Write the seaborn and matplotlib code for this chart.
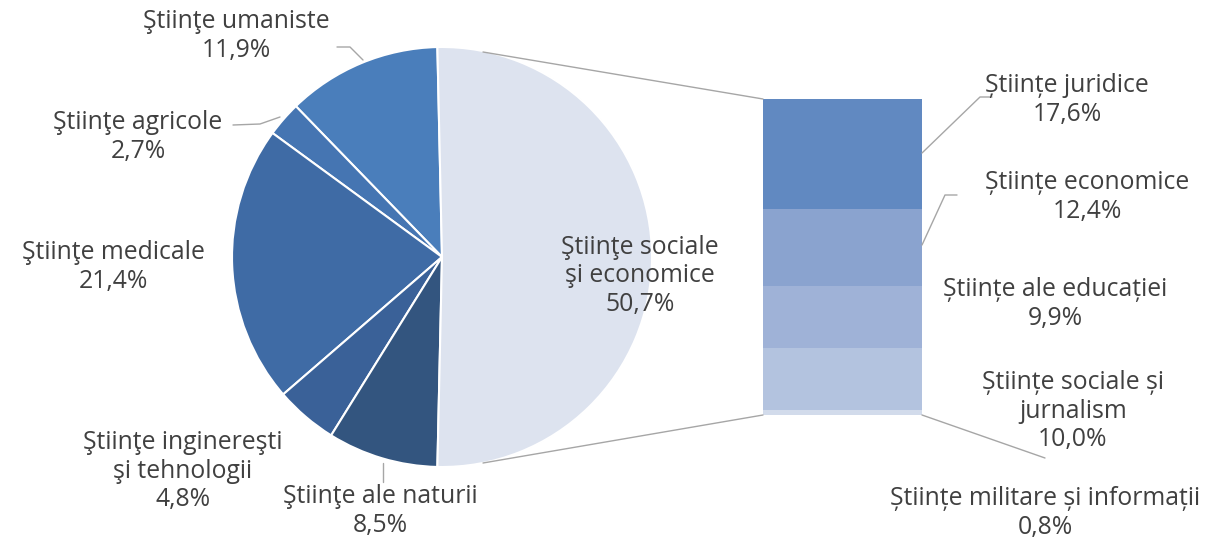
import matplotlib
matplotlib.use("Agg")
import matplotlib.pyplot as plt
import seaborn as sns

# pie data (counter-clockwise from the top)
pie_labels = ['Ştiinţe umaniste', 'Ştiinţe agricole', 'Ştiinţe medicale',
              'Ştiinţe inginereşti\nşi tehnologii', 'Ştiinţe ale naturii',
              'Ştiinţe sociale\nşi economice']
pie_values = [11.9, 2.7, 21.4, 4.8, 8.5, 50.7]
pie_colors = ['#4a7ebb', '#4575b2', '#3f6ba5', '#3a6198', '#33557f', '#dde3ef']

# breakdown of "sociale si economice" (bottom to top in the bar)
bar_labels = ['Științe militare și informații', 'Științe sociale și\njurnalism',
              'Științe ale educației', 'Științe economice', 'Științe juridice']
bar_values = [0.8, 10.0, 9.9, 12.4, 17.6]
bar_colors = ['#d2dbeb', '#b3c3df', '#9fb2d7', '#8aa3cf', '#6189c1']

sns.set_theme(style='white')
plt.rcParams['font.family'] = ['Open Sans', 'DejaVu Sans']
txt_color = '#404040'
fs = 17.8

W, H = 1213, 540
fig = plt.figure(figsize=(W / 100, H / 100), dpi=100)

# pie
cx, cy, r = 442, 257, 210
ax_pie = fig.add_axes([(cx - r) / W, (H - cy - r) / H, 2 * r / W, 2 * r / H])
start = 90 + (pie_values[-1] - 50) * 3.6 / 2
ax_pie.pie(pie_values, colors=pie_colors, startangle=start, counterclock=True,
           wedgeprops=dict(edgecolor='white', linewidth=1.5))
ax_pie.set_xlim(-1, 1)
ax_pie.set_ylim(-1, 1)
ax_pie.set_aspect('equal')
ax_pie.axis('off')

# stacked bar drawn as overlapping cumulative bars
bx0, bx1, by0, by1 = 763, 922, 99, 415
ax_bar = fig.add_axes([bx0 / W, (H - by1) / H, (bx1 - bx0) / W, (by1 - by0) / H])
cum = []
tot = 0
for v in bar_values:
    tot += v
    cum.append(tot)
for c, col in reversed(list(zip(cum, bar_colors))):
    sns.barplot(x=[0], y=[c], color=col, width=1, ax=ax_bar, saturation=1,
                linewidth=0)
ax_bar.set_xlim(-0.5, 0.5)
ax_bar.set_ylim(0, sum(bar_values))
ax_bar.axis('off')

# overlay in pixel coordinates for labels and leader lines
ov = fig.add_axes([0, 0, 1, 1], facecolor='none')
ov.set_xlim(0, W)
ov.set_ylim(H, 0)
ov.axis('off')

line_kw = dict(color='#a6a6a6', lw=1)
ov.plot([483, bx0], [52, by0], **line_kw)
ov.plot([483, bx0], [463, by1], **line_kw)


def pct(v):
    return f'{v:.1f}%'.replace('.', ',')


pie_pos = [(236, 36), (138, 137), (113, 267), (183, 471), (380, 511), (640, 276)]
for lab, v, (x, y) in zip(pie_labels, pie_values, pie_pos):
    ov.text(x, y, f'{lab}\n{pct(v)}', ha='center', va='center', fontsize=fs,
            color=txt_color, linespacing=1.2)

bar_pos = [(1045, 513), (1073, 411), (1055, 304), (1087, 197), (1067, 100)]
for lab, v, (x, y) in zip(bar_labels, bar_values, bar_pos):
    ov.text(x, y, f'{lab}\n{pct(v)}', ha='center', va='center', fontsize=fs,
            color=txt_color, linespacing=1.2)

# leader lines
ov.plot([337, 350, 363], [47, 47, 60], **line_kw)
ov.plot([233, 260, 280], [125, 124, 117], **line_kw)
ov.plot([383, 383], [463, 482], **line_kw)
ov.plot([922, 980, 992], [153, 97, 97], **line_kw)
ov.plot([922, 945, 957], [245, 195, 195], **line_kw)
ov.plot([922, 1045], [415, 458], **line_kw)

fig.savefig('out.png', dpi=100, facecolor='white')
